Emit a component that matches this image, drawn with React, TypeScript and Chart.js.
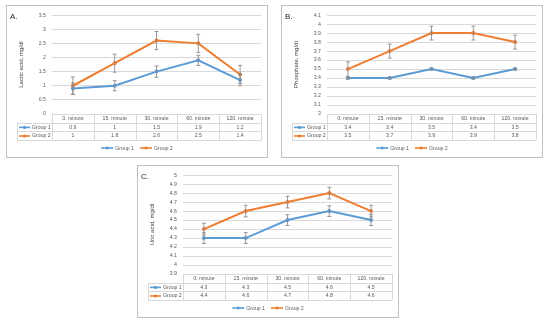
import React, { useEffect, useRef } from "react";
import { Chart, registerables } from "chart.js";
Chart.register(...registerables);

const categories = ["0. minute", "15. minute", "30. minute", "60. minute", "120. minute"];
const seriesNames = ["Group 1", "Group 2"];

const lacticG1 = [0.9, 1, 1.5, 1.9, 1.2];
const lacticG2 = [1, 1.8, 2.6, 2.5, 1.4];
const lacticErrG1 = [0.2, 0.18, 0.2, 0.18, 0.2];
const lacticErrG2 = [0.31, 0.32, 0.32, 0.32, 0.32];

const phosG1 = [3.4, 3.4, 3.5, 3.4, 3.5];
const phosG2 = [3.5, 3.7, 3.9, 3.9, 3.8];
const phosErrG1 = [0.01, 0.01, 0.01, 0.01, 0.01];
const phosErrG2 = [0.08, 0.078, 0.077, 0.077, 0.077];

const uricG1 = [4.3, 4.3, 4.5, 4.6, 4.5];
const uricG2 = [4.4, 4.6, 4.7, 4.8, 4.6];
const uricErrG1 = [0.06, 0.06, 0.06, 0.06, 0.06];
const uricErrG2 = [0.065, 0.065, 0.065, 0.065, 0.065];

const BLUE = "#5B9BD5";
const ORANGE = "#ED7D31";
const GRID = "#D9D9D9";
const TEXT = "#595959";
const FONT = "'Liberation Sans', Arial, sans-serif";
const FS = 5.2;

const CW = 260;
const CH = 151;
const ROW_H = 8.6;

function drawMarker(ctx: CanvasRenderingContext2D, x0: number, x1: number, y: number, color: string) {
  ctx.save();
  ctx.strokeStyle = color;
  ctx.lineWidth = 1.6;
  ctx.beginPath();
  ctx.moveTo(x0, y);
  ctx.lineTo(x1, y);
  ctx.stroke();
  ctx.fillStyle = color;
  ctx.beginPath();
  ctx.arc((x0 + x1) / 2, y, 1.6, 0, Math.PI * 2);
  ctx.fill();
  ctx.restore();
}

type PanelProps = {
  left: number;
  top: number;
  label: string;
  title: string;
  yMin: number;
  yMax: number;
  step: number;
  g1: number[];
  g2: number[];
  e1: number[];
  e2: number[];
};

function Panel(p: PanelProps) {
  const ref = useRef<HTMLCanvasElement>(null);
  useEffect(() => {
    const errors = [p.e1, p.e2];
    const deco = {
      id: "deco",
      afterDatasetsDraw(chart: any) {
        const ctx = chart.ctx as CanvasRenderingContext2D;
        const ys = chart.scales.y;
        ctx.save();
        ctx.strokeStyle = "#8C8C8C";
        ctx.lineWidth = 0.9;
        chart.data.datasets.forEach((ds: any, i: number) => {
          const meta = chart.getDatasetMeta(i);
          ds.data.forEach((v: number, j: number) => {
            const e = errors[i][j];
            const x = meta.data[j].x;
            const yt = ys.getPixelForValue(v + e);
            const yb = ys.getPixelForValue(v - e);
            ctx.beginPath();
            ctx.moveTo(x, yt);
            ctx.lineTo(x, yb);
            ctx.moveTo(x - 2, yt);
            ctx.lineTo(x + 2, yt);
            ctx.moveTo(x - 2, yb);
            ctx.lineTo(x + 2, yb);
            ctx.stroke();
          });
        });
        ctx.restore();
      },
      afterDraw(chart: any) {
        const ctx = chart.ctx as CanvasRenderingContext2D;
        const xs = chart.scales.x;
        const area = chart.chartArea;
        const colW = (area.right - area.left) / categories.length;
        const t0 = area.bottom;
        const labelLeft = 10;
        ctx.save();
        // table lines
        ctx.strokeStyle = GRID;
        ctx.lineWidth = 1;
        ctx.beginPath();
        for (let r = 1; r <= 3; r++) {
          const y = Math.round(t0 + r * ROW_H) + 0.5;
          ctx.moveTo(labelLeft, y);
          ctx.lineTo(area.right, y);
        }
        for (let c = 0; c <= categories.length; c++) {
          const x = Math.round(area.left + c * colW) + 0.5;
          ctx.moveTo(x, t0);
          ctx.lineTo(x, Math.round(t0 + 3 * ROW_H) + 0.5);
        }
        ctx.moveTo(labelLeft + 0.5, Math.round(t0 + ROW_H) + 0.5);
        ctx.lineTo(labelLeft + 0.5, Math.round(t0 + 3 * ROW_H) + 0.5);
        ctx.stroke();
        // table text
        ctx.fillStyle = TEXT;
        ctx.font = `${FS}px ${FONT}`;
        ctx.textAlign = "center";
        ctx.textBaseline = "middle";
        categories.forEach((c, i) => {
          const x = xs.getPixelForValue(i);
          ctx.fillText(c, x, t0 + ROW_H / 2 + 0.5);
        });
        const rows = [p.g1, p.g2];
        const colors = [BLUE, ORANGE];
        rows.forEach((vals, r) => {
          const y = t0 + ROW_H * (r + 1) + ROW_H / 2 + 0.5;
          vals.forEach((v, i) => {
            ctx.fillText(String(v), xs.getPixelForValue(i), y);
          });
          drawMarker(ctx, labelLeft + 2, labelLeft + 13, y, colors[r]);
          ctx.textAlign = "left";
          ctx.fillText(seriesNames[r], labelLeft + 15, y);
          ctx.textAlign = "center";
        });
        // legend
        const ly = 142;
        ctx.textAlign = "left";
        const mW = 12;
        const widths = seriesNames.map((n) => mW + 2 + ctx.measureText(n).width);
        const gap = 6;
        const total = widths[0] + widths[1] + gap;
        let lx = chart.width / 2 - total / 2;
        seriesNames.forEach((n, i) => {
          drawMarker(ctx, lx, lx + mW, ly, colors[i]);
          ctx.fillText(n, lx + mW + 2, ly + 0.3);
          lx += widths[i] + gap;
        });
        // panel label
        ctx.fillStyle = "#262626";
        ctx.font = `8px ${FONT}`;
        ctx.textBaseline = "alphabetic";
        ctx.fillText(p.label, 3, 12.5);
        ctx.restore();
      },
    };

    const chart = new Chart(ref.current as HTMLCanvasElement, {
      type: "line",
      data: {
        labels: categories,
        datasets: [
          {
            label: seriesNames[0],
            data: p.g1,
            borderColor: BLUE,
            backgroundColor: BLUE,
            borderWidth: 2,
            pointRadius: 2,
            pointBorderWidth: 0,
            tension: 0,
          },
          {
            label: seriesNames[1],
            data: p.g2,
            borderColor: ORANGE,
            backgroundColor: ORANGE,
            borderWidth: 2,
            pointRadius: 2,
            pointBorderWidth: 0,
            tension: 0,
          },
        ],
      },
      options: {
        animation: false,
        responsive: false,
        maintainAspectRatio: false,
        layout: { padding: { top: 6, right: 6, bottom: 17, left: 0 } },
        plugins: { legend: { display: false }, tooltip: { enabled: false } },
        scales: {
          x: {
            offset: true,
            grid: { display: false },
            border: { display: false },
            ticks: { display: false },
            afterFit: (s: any) => {
              s.height = 26;
            },
          },
          y: {
            min: p.yMin,
            max: p.yMax,
            ticks: {
              stepSize: p.step,
              autoSkip: false,
              padding: 6,
              color: TEXT,
              font: { size: FS, family: FONT },
              callback: (v: any) => String(Math.round(Number(v) * 10) / 10),
            },
            grid: { color: GRID, drawTicks: false, lineWidth: 1 },
            border: { display: false },
            title: {
              display: true,
              text: p.title,
              color: "#404040",
              font: { size: 6, family: FONT },
              padding: { top: 11, bottom: 0 },
            },
            afterFit: (s: any) => {
              s.width = 45;
            },
          },
        },
      },
      plugins: [deco],
    } as any);
    return () => chart.destroy();
  }, []);
  return (
    <div
      style={{
        position: "absolute",
        left: p.left,
        top: p.top,
        width: CW + 2,
        height: CH + 2,
        boxSizing: "border-box",
        border: "1px solid #BFBFBF",
        background: "#fff",
      }}
    >
      <canvas ref={ref} width={CW} height={CH} style={{ display: "block", width: CW, height: CH }} />
    </div>
  );
}

export default function App() {
  return (
    <div style={{ position: "absolute", left: 0, top: 0, width: 550, height: 324, background: "#fff" }}>
      <Panel left={6} top={5} label="A." title="Lactic acid, mg/dl" yMin={0} yMax={3.5} step={0.5} g1={lacticG1} g2={lacticG2} e1={lacticErrG1} e2={lacticErrG2} />
      <Panel left={281} top={5} label="B." title="Phosphate, mg/dl" yMin={3} yMax={4.1} step={0.1} g1={phosG1} g2={phosG2} e1={phosErrG1} e2={phosErrG2} />
      <Panel left={137} top={165} label="C." title="Uric acid, mg/dl" yMin={3.9} yMax={5} step={0.1} g1={uricG1} g2={uricG2} e1={uricErrG1} e2={uricErrG2} />
    </div>
  );
}
